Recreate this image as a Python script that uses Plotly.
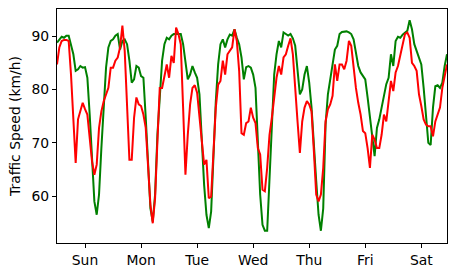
import plotly.graph_objects as go

hours = list(range(168))
day_ticks = [12, 36, 60, 84, 108, 132, 156]
day_labels = ["Sun", "Mon", "Tue", "Wed", "Thu", "Fri", "Sat"]

speed_green = [
    88.8, 89.4, 89.9, 89.7, 90.1, 90.1, 88.5, 86.6, 83.5, 83.8, 84.4, 84.1,
    84.2, 82.2, 75.3, 67.1, 59.0, 56.5, 60.3, 69.0, 77.8, 84.1, 87.9, 89.1,
    89.4, 90.1, 90.4, 87.5, 89.1, 89.4, 88.5, 85.4, 81.3, 81.9, 84.4, 84.1,
    82.5, 82.2, 74.7, 65.9, 57.7, 55.2, 60.3, 71.5, 79.7, 85.4, 88.5, 89.7,
    89.4, 90.1, 90.4, 90.4, 90.5, 90.4, 88.5, 85.0, 81.9, 82.8, 84.4, 83.2,
    82.2, 79.1, 70.3, 62.1, 56.5, 54.0, 57.1, 68.4, 77.8, 84.7, 88.5, 89.4,
    87.9, 89.4, 90.3, 90.1, 91.3, 89.7, 88.5, 86.0, 81.9, 84.2, 84.4, 84.1,
    82.8, 80.3, 70.9, 60.3, 54.6, 53.5, 53.5, 62.8, 74.7, 82.8, 86.6, 89.1,
    87.9, 90.7, 90.4, 90.1, 90.4, 89.6, 88.2, 84.1, 79.1, 80.0, 82.8, 84.4,
    81.3, 76.6, 69.0, 62.8, 56.5, 53.5, 57.7, 73.4, 79.1, 82.2, 84.7, 87.5,
    88.2, 90.4, 90.8, 90.9, 90.9, 90.7, 90.4, 89.4, 87.2, 84.4, 83.2, 82.5,
    81.9, 78.5, 74.7, 70.9, 67.5, 72.8, 74.4, 76.6, 79.1, 81.0, 82.2, 86.6,
    84.4, 89.1, 89.9, 89.7, 90.3, 90.7, 91.0, 93.0, 91.3, 88.5, 87.2, 86.0,
    84.7, 80.3, 75.3, 70.0, 69.6, 76.6, 80.6, 80.8, 80.3, 81.3, 84.4, 86.6,
]

speed_red = [
    84.7, 87.9, 89.1, 89.3, 89.3, 89.1, 82.8, 74.0, 66.2, 74.4, 75.9, 77.5,
    76.3, 75.3, 70.9, 66.5, 64.0, 65.9, 72.8, 75.9, 77.8, 79.1, 80.3, 84.1,
    84.1, 85.4, 86.0, 87.9, 92.0, 87.2, 76.6, 66.8, 66.8, 74.7, 78.5, 77.2,
    76.9, 75.3, 72.8, 65.3, 58.4, 54.9, 59.6, 70.3, 80.3, 80.3, 82.8, 84.7,
    82.2, 86.3, 85.0, 91.6, 90.4, 88.5, 76.6, 64.0, 71.5, 77.2, 80.3, 80.8,
    79.4, 74.7, 70.3, 65.9, 66.8, 59.6, 59.9, 69.0, 76.6, 80.9, 81.6, 85.4,
    82.8, 86.6, 87.2, 87.9, 91.3, 89.1, 83.5, 71.8, 71.5, 73.7, 74.0, 76.6,
    74.7, 73.7, 69.0, 67.8, 61.2, 60.9, 65.3, 71.5, 74.7, 79.1, 82.2, 84.4,
    82.8, 86.0, 86.6, 88.2, 89.6, 86.6, 79.7, 74.0, 68.1, 74.0, 76.6, 77.8,
    77.2, 75.9, 68.4, 60.3, 59.0, 60.3, 65.3, 74.0, 76.3, 77.2, 78.8, 84.7,
    81.6, 84.7, 84.7, 83.8, 85.4, 89.1, 88.2, 84.1, 80.3, 77.5, 75.3, 72.2,
    71.8, 69.0, 65.3, 71.5, 70.6, 69.0, 69.0, 71.5, 75.3, 74.0, 78.5, 81.6,
    79.7, 83.2, 84.4, 86.3, 88.5, 90.4, 90.7, 89.7, 85.0, 84.4, 83.5, 79.1,
    76.9, 74.4, 73.4, 73.1, 73.1, 71.2, 74.0, 75.3, 76.6, 80.3, 82.8, 84.7,
]

y_ticks = [60, 70, 80, 90]

fig = go.Figure()
fig.add_trace(go.Scatter(x=hours, y=speed_green, mode="lines",
                         line=dict(color="#008000", width=2), showlegend=False))
fig.add_trace(go.Scatter(x=hours, y=speed_red, mode="lines",
                         line=dict(color="#ff0000", width=2), showlegend=False))

axis_common = dict(showline=True, linecolor="black", linewidth=1, mirror=True,
                   showgrid=False, zeroline=False, ticks="outside", ticklen=4,
                   tickcolor="black", tickwidth=1,
                   tickfont=dict(family="DejaVu Sans", size=13.9, color="black"))

fig.update_xaxes(range=[0, 167], tickmode="array", tickvals=day_ticks,
                 ticktext=day_labels, **axis_common)
fig.update_yaxes(range=[51.2, 95.1], tickmode="array", tickvals=y_ticks,
                 title=dict(text="Traffic Speed (km/h)", standoff=7,
                            font=dict(family="DejaVu Sans", size=13.9, color="black")),
                 **axis_common)

fig.update_layout(width=457, height=276, plot_bgcolor="white", paper_bgcolor="white",
                  margin=dict(l=57, r=10, t=9, b=33, autoexpand=False))

fig.write_html("out.html", config={"displayModeBar": False},
               post_script="document.body.style.margin='0';document.body.style.padding='0';")
